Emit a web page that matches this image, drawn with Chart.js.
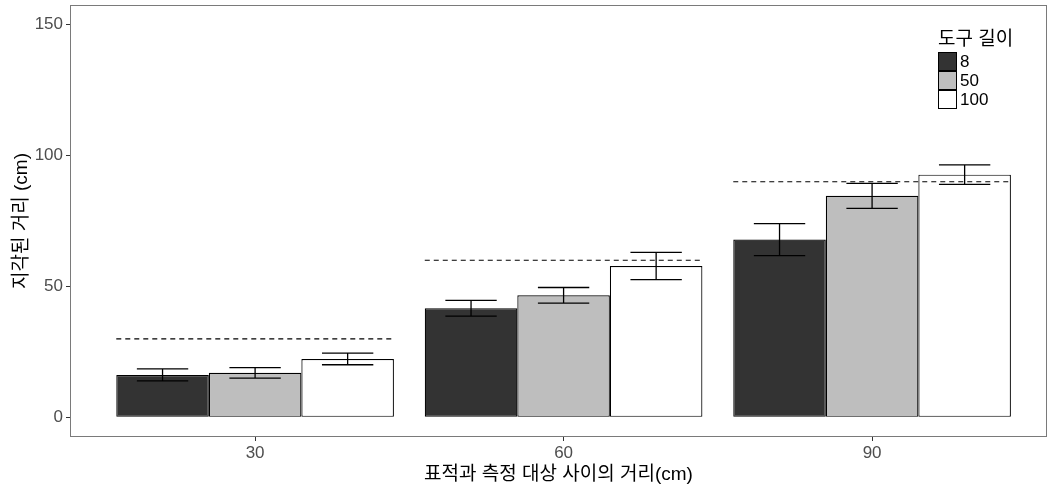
<!DOCTYPE html>
<html lang="ko">
<head>
<meta charset="utf-8">
<title>지각된 거리</title>
<script src="https://cdn.jsdelivr.net/npm/chart.js@4.4.1/dist/chart.umd.min.js"></script>
<style>
  html, body { margin: 0; padding: 0; background: #ffffff; }
  #wrap { width: 1049px; height: 488px; position: relative; }
</style>
</head>
<body>
<div id="wrap"><canvas id="chart"></canvas></div>
<script>
// Target distance groups (cm)
const categories = ['30', '60', '90'];
// Tool length series
const seriesNames = ['8', '50', '100'];
const seriesColors = ['#333333', '#bebebe', '#ffffff'];
// Mean perceived distance (cm) per tool length
const mean8   = [16.2, 41.7, 67.9];
const mean50  = [17.0, 46.6, 84.6];
const mean100 = [22.3, 57.8, 92.7];
// Error bar half-lengths (cm)
const err8   = [2.3, 3.0, 6.1];
const err50  = [2.0, 3.0, 4.8];
const err100 = [2.2, 5.2, 3.7];
// Actual target distances, drawn as dashed reference lines
const actualDistance = [30, 60, 90];
const yTicks = [0, 50, 100, 150];

const FONT = "'Liberation Sans', Arial, 'Noto Sans CJK KR', sans-serif";
const means = [mean8, mean50, mean100];
const errs = [err8, err50, err100];

const barSets = means.map((vals, s) => ({
  type: 'bar',
  label: seriesNames[s],
  data: vals.map((v, i) => ({ x: i + 1, y: v })),
  errors: errs[s],
  backgroundColor: seriesColors[s],
  borderColor: '#000000',
  borderWidth: 1.2,
  borderSkipped: false,
  categoryPercentage: 0.9,
  barPercentage: 1.0,
  order: 1
}));

const refSets = actualDistance.map((v, i) => ({
  type: 'line',
  label: 'ref' + categories[i],
  data: [{ x: i + 1 - 0.45, y: v }, { x: i + 1 + 0.45, y: v }],
  borderColor: '#000000',
  borderWidth: 1.2,
  borderDash: [5, 4],
  pointRadius: 0,
  fill: false,
  order: 0
}));

// Error bars: vertical line plus whiskers on each bar
const errorBars = {
  id: 'errorBars',
  afterDatasetsDraw(chart) {
    const ctx = chart.ctx;
    const yScale = chart.scales.y;
    ctx.save();
    ctx.strokeStyle = '#000000';
    ctx.lineWidth = 1.3;
    chart.data.datasets.forEach((ds, di) => {
      if (!ds.errors) return;
      const meta = chart.getDatasetMeta(di);
      meta.data.forEach((bar, i) => {
        const v = ds.data[i].y, e = ds.errors[i];
        const yHi = yScale.getPixelForValue(v + e);
        const yLo = yScale.getPixelForValue(v - e);
        const hw = bar.width * 0.2775;
        ctx.beginPath();
        ctx.moveTo(bar.x, yHi); ctx.lineTo(bar.x, yLo);
        ctx.moveTo(bar.x - hw, yHi); ctx.lineTo(bar.x + hw, yHi);
        ctx.moveTo(bar.x - hw, yLo); ctx.lineTo(bar.x + hw, yLo);
        ctx.stroke();
      });
    });
    ctx.restore();
  }
};

// Panel frame and the tool-length legend
const panelAndLegend = {
  id: 'panelAndLegend',
  afterDraw(chart) {
    const ctx = chart.ctx;
    const a = chart.chartArea;
    ctx.save();
    ctx.strokeStyle = '#7a7a7a';
    ctx.lineWidth = 1;
    ctx.strokeRect(Math.round(a.left) + 0.5, Math.round(a.top) + 0.5,
                   Math.round(a.right - a.left) - 1, Math.round(a.bottom - a.top) - 1);

    const lx = 938, ly = 52, key = 19;
    ctx.fillStyle = '#000000';
    ctx.textBaseline = 'middle';
    ctx.textAlign = 'left';
    ctx.font = '19px ' + FONT;
    ctx.fillText('도구 길이', lx, 40);
    ctx.font = '17px ' + FONT;
    seriesNames.forEach((name, s) => {
      const y = ly + s * key;
      ctx.fillStyle = seriesColors[s];
      ctx.fillRect(lx, y, key, key);
      ctx.strokeStyle = '#000000';
      ctx.strokeRect(lx + 0.5, y + 0.5, key - 1, key - 1);
      ctx.fillStyle = '#000000';
      ctx.fillText(name, lx + key + 3, y + key / 2 + 1);
    });
    ctx.restore();
  }
};

new Chart(document.getElementById('chart'), {
  type: 'bar',
  data: { datasets: [...refSets, ...barSets] },
  plugins: [errorBars, panelAndLegend],
  options: {
    responsive: true,
    maintainAspectRatio: false,
    animation: false,
    layout: { padding: { top: 5, right: 2, left: 0, bottom: 0 } },
    plugins: {
      legend: { display: false },
      tooltip: { enabled: false }
    },
    scales: {
      x: {
        type: 'linear',
        min: 0.4,
        max: 3.567,
        offset: false,
        afterBuildTicks(scale) {
          scale.ticks = categories.map((c, i) => ({ value: i + 1 }));
        },
        afterFit(scale) {
          scale.height = 51;
          scale.paddingLeft = 0;
          scale.paddingRight = 0;
        },
        ticks: {
          callback: (v) => categories[v - 1],
          color: '#4d4d4d',
          font: { family: FONT, size: 17 },
          padding: 2,
          maxRotation: 0
        },
        grid: { offset: false, drawOnChartArea: false, drawTicks: true, tickLength: 4, color: '#333333', lineWidth: 1 },
        border: { display: false },
        title: {
          display: true,
          text: '표적과 측정 대상 사이의 거리(cm)',
          color: '#000000',
          font: { family: FONT, size: 19 },
          padding: { top: 0, bottom: 2 }
        }
      },
      y: {
        type: 'linear',
        min: -7.5,
        max: 157.5,
        afterBuildTicks(scale) {
          scale.ticks = yTicks.map(v => ({ value: v }));
        },
        afterFit(scale) {
          scale.width = 70;
          scale.paddingTop = 0;
          scale.paddingBottom = 0;
        },
        ticks: {
          color: '#4d4d4d',
          font: { family: FONT, size: 17 },
          padding: 3
        },
        grid: { drawOnChartArea: false, drawTicks: true, tickLength: 4, color: '#333333', lineWidth: 1 },
        border: { display: false },
        title: {
          display: true,
          text: '지각된 거리 (cm)',
          color: '#000000',
          font: { family: FONT, size: 19 },
          padding: { top: 10, bottom: 0 }
        }
      }
    }
  }
});
</script>
</body>
</html>
